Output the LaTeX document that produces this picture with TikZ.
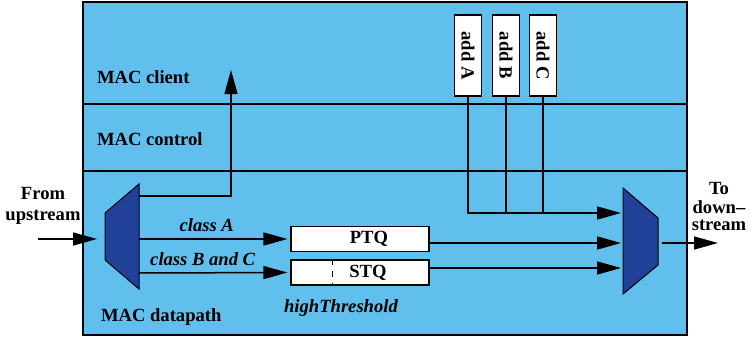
\documentclass[tikz,border=0pt]{standalone}
\usepackage{fontspec}
\setmainfont{Liberation Serif}
\usetikzlibrary{arrows.meta,positioning}

\definecolor{fondmac}{RGB}{96,191,236}
\definecolor{bleumux}{RGB}{33,64,152}

\begin{document}
\begin{tikzpicture}[
    x=0.5pt,
    y=-0.5pt,
    >={Triangle[length=12pt,width=6.5pt]},
    couche/.style={
        rectangle,
        draw,
        fill=fondmac,
        line width=0.7pt,
        minimum width=302pt,
        inner sep=0pt
    },
    file/.style={
        rectangle,
        draw,
        fill=white,
        line width=0.6pt,
        minimum width=69pt,
        minimum height=12.5pt,
        inner sep=0pt
    },
    ajout/.style={
        rectangle,
        draw,
        fill=white,
        line width=0.6pt,
        minimum width=13.5pt,
        minimum height=40.5pt,
        inner sep=0pt
    },
    mux/.style={
        draw,
        fill=bleumux,
        line width=0.5pt
    },
    fleche/.style={
        ->,
        line width=0.75pt
    },
    ligne/.style={
        line width=0.75pt
    },
    texte/.style={
        font=\fontsize{9.3}{10.5}\selectfont\bfseries
    },
    etiquette/.style={
        font=\fontsize{9.3}{10.5}\selectfont\bfseries\itshape
    }
]

\useasboundingbox (0,0) rectangle (751,337);

% couches
\node[couche, minimum height=51pt] (client) at (385,53) {};
\node[couche, minimum height=33.5pt] (control) at (385,137.5) {};
\node[couche, minimum height=82pt] (datapath) at (385,253) {};

\node[texte, anchor=west] (lclient) at (90,77) {MAC client};
\node[texte, anchor=west] (lcontrol) at (90,139) {MAC control};
\node[texte, anchor=west] (ldatapath) at (94,317) {MAC datapath};

% demultiplexeur
\draw[mux] (105,213) -- (139,184) -- (139,289) -- (105,260) -- cycle;
\coordinate (dmx-in) at (105,239);
\coordinate (dmx-up) at (139,196);
\coordinate (dmx-a) at (139,239);
\coordinate (dmx-b) at (139,273);

% multiplexeur
\draw[mux] (623,188) -- (658,218) -- (658,265) -- (623,294) -- cycle;
\coordinate (mux-t) at (621,213);
\coordinate (mux-p) at (621,243);
\coordinate (mux-s) at (621,268);
\coordinate (mux-out) at (662,243);

% files
\node[file, label={[texte, xshift=4.5pt]center:PTQ}] (ptq) at (360,239) {};
\node[file, label={[texte, xshift=4pt]center:STQ}] (stq) at (360,272.5) {};
\draw[dashed, line width=0.5pt] ([xshift=-14pt]stq.north) -- ([xshift=-14pt]stq.south);

\node[etiquette] (seuil) at (341,308) {highThreshold};

% ajouts
\node[ajout] (adda) at (468,55.5) {};
\node[ajout] (addb) at (506,55.5) {};
\node[ajout] (addc) at (543,55.5) {};
\node[texte, rotate=-90] at (adda) {add A};
\node[texte, rotate=-90] at (addb) {add B};
\node[texte, rotate=-90] at (addc) {add C};

% entrees et sorties
\coordinate (upin) at (38,239);
\coordinate (clienttip) at (231,70);
\coordinate (dnout) at (718,243);

\node[texte, align=center] (from) at (43,206) {From\\upstream};
\node[texte, align=center, font=\fontsize{9.3}{9}\selectfont\bfseries] (to) at (719,207) {To\\down--\\stream};

\draw[fleche, shorten >=4pt] (upin) -- (dmx-in);
\draw[fleche] (dmx-up) -| (clienttip);
\draw[fleche, shorten >=1.5pt] (dmx-a) -- node[etiquette, above, xshift=-4pt] {class A} (ptq.west);
\draw[fleche, shorten >=1.5pt] (dmx-b) -- node[etiquette, above, xshift=-6pt] {class B and C} (stq.west);

\draw[fleche] (ptq.east |- mux-p) -- (mux-p);
\draw[fleche] (stq.east |- mux-s) -- (mux-s);
\draw[fleche] (adda.south) |- (mux-t);
\draw[ligne] (addb.south) -- (addb.south |- mux-t);
\draw[ligne] (addc.south) -- (addc.south |- mux-t);
\draw[fleche] (mux-out) -- (dnout);

\end{tikzpicture}
\end{document}
